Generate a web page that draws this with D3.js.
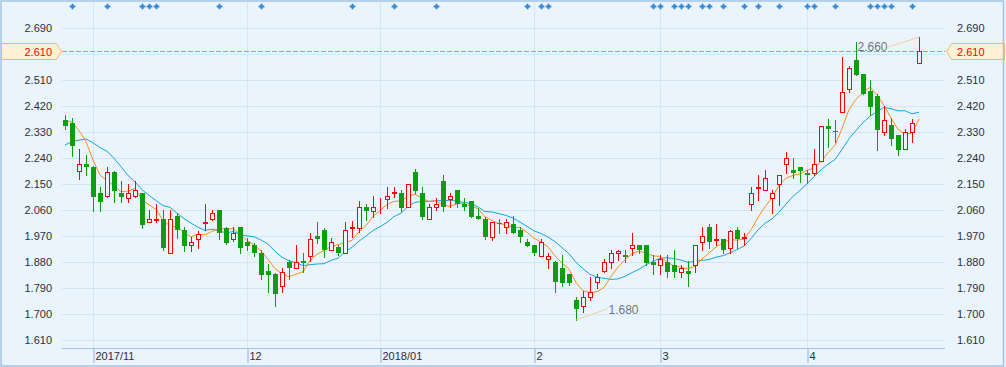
<!DOCTYPE html>
<html>
    <head>
        <title>K线图</title>
        <meta charset="utf-8" />
        <script src="https://d3js.org/d3.v7.min.js"></script>
        <style>
            body {
                margin: 0;
                background: #eaf4fc;
            }
            svg {
                display: block;
                font-family: 'Liberation Sans', Arial, sans-serif;
            }
        </style>
    </head>
    <body>
        <svg class="chart" width="1006" height="367"></svg>
        <script>
            // closes before the first visible candle (only used for the moving averages)
            const preCloses = [2.164, 2.171, 2.168, 2.234, 2.258, 2.32, 2.365, 2.4, 2.424]

            const open = [
                2.372, 2.362, 2.196, 2.22, 2.209, 2.119, 2.109, 2.192, 2.119, 2.102,
                2.109, 2.119, 2.019, 2.026, 2.029, 1.911, 2.04, 1.991, 1.939, 1.96,
                2.017, 2.029, 2.06, 1.998, 1.96, 2.002, 1.95, 1.939, 1.911, 1.849,
                1.839, 1.797, 1.88, 1.86, 1.884, 1.901, 1.97, 1.991, 1.922, 1.932,
                1.911, 1.998, 1.998, 2.071, 2.057, 2.09, 2.099, 2.121, 2.119, 2.071,
                2.192, 2.119, 2.029, 2.071, 2.161, 2.099, 2.13, 2.081, 2.091, 2.04,
                2.029, 1.967, 2.017, 2.002, 2.012, 1.991, 1.95, 1.939, 1.901, 1.891,
                1.88, 1.86, 1.839, 1.749, 1.728, 1.759, 1.811, 1.849, 1.88, 1.911,
                1.903, 1.929, 1.939, 1.939, 1.88, 1.87, 1.88, 1.87, 1.846, 1.849,
                1.87, 1.95, 2.002, 1.958, 1.96, 1.929, 1.991, 1.965, 2.081, 2.138,
                2.13, 2.102, 2.151, 2.22, 2.199, 2.209, 2.187, 2.189, 2.23, 2.352,
                2.333, 2.4, 2.48, 2.58, 2.532, 2.473, 2.455, 2.331, 2.355, 2.32,
                2.272, 2.331, 2.57
            ]
            const high = [
                2.39, 2.379, 2.272, 2.251, 2.212, 2.14, 2.209, 2.194, 2.161, 2.151,
                2.161, 2.121, 2.06, 2.081, 2.06, 2.06, 2.05, 2.002, 1.967, 1.988,
                2.081, 2.06, 2.062, 2.002, 2.002, 2.002, 1.963, 1.946, 1.922, 1.873,
                1.842, 1.86, 1.887, 1.939, 1.911, 1.981, 2.019, 1.998, 1.963, 1.939,
                2.019, 2.022, 2.091, 2.081, 2.109, 2.102, 2.14, 2.14, 2.13, 2.151,
                2.202, 2.14, 2.081, 2.102, 2.182, 2.119, 2.13, 2.102, 2.091, 2.067,
                2.036, 2.019, 2.029, 2.029, 2.04, 2.002, 1.96, 1.939, 1.96, 1.911,
                1.884, 1.905, 1.839, 1.759, 1.78, 1.828, 1.839, 1.891, 1.922, 1.922,
                1.922, 1.981, 1.939, 1.939, 1.905, 1.905, 1.905, 1.922, 1.87, 1.884,
                1.939, 2.002, 2.012, 2.012, 1.96, 1.991, 2.002, 1.981, 2.14, 2.182,
                2.199, 2.13, 2.182, 2.261, 2.241, 2.209, 2.199, 2.272, 2.352, 2.376,
                2.372, 2.591, 2.559, 2.643, 2.532, 2.511, 2.462, 2.421, 2.379, 2.32,
                2.341, 2.376, 2.66
            ]
            const low = [
                2.341, 2.248, 2.168, 2.182, 2.057, 2.057, 2.106, 2.088, 2.088, 2.088,
                2.106, 1.998, 2.019, 2.019, 1.922, 1.911, 1.963, 1.918, 1.918, 1.929,
                1.991, 2.026, 1.96, 1.943, 1.953, 1.911, 1.922, 1.901, 1.821, 1.776,
                1.728, 1.776, 1.821, 1.86, 1.846, 1.884, 1.946, 1.898, 1.922, 1.904,
                1.911, 1.967, 1.984, 2.026, 2.036, 2.05, 2.067, 2.106, 2.057, 2.071,
                2.119, 2.029, 2.029, 2.06, 2.057, 2.071, 2.071, 2.06, 2.036, 2.029,
                1.96, 1.957, 1.981, 1.981, 1.981, 1.95, 1.936, 1.904, 1.901, 1.86,
                1.776, 1.797, 1.801, 1.68, 1.707, 1.749, 1.79, 1.846, 1.86, 1.887,
                1.88, 1.904, 1.911, 1.87, 1.839, 1.839, 1.828, 1.828, 1.828, 1.797,
                1.846, 1.922, 1.929, 1.939, 1.911, 1.911, 1.929, 1.939, 2.06, 2.095,
                2.13, 2.05, 2.078, 2.189, 2.171, 2.157, 2.154, 2.182, 2.23, 2.279,
                2.296, 2.4, 2.469, 2.528, 2.462, 2.39, 2.268, 2.32, 2.286, 2.251,
                2.272, 2.296, 2.57
            ]
            const close = [
                2.352, 2.282, 2.22, 2.209, 2.106, 2.088, 2.192, 2.126, 2.106, 2.119,
                2.13, 2.008, 2.029, 2.029, 1.929, 2.029, 1.991, 1.936, 1.95, 1.977,
                2.019, 2.05, 1.981, 1.946, 1.981, 1.929, 1.936, 1.911, 1.835, 1.835,
                1.769, 1.846, 1.86, 1.88, 1.877, 1.96, 1.96, 1.922, 1.95, 1.911,
                1.991, 2.002, 2.071, 2.057, 2.071, 2.091, 2.109, 2.123, 2.067, 2.151,
                2.126, 2.036, 2.071, 2.081, 2.071, 2.109, 2.081, 2.071, 2.036, 2.029,
                1.967, 2.019, 2.014, 2.019, 1.981, 1.967, 1.936, 1.911, 1.95, 1.901,
                1.811, 1.808, 1.808, 1.717, 1.759, 1.776, 1.828, 1.88, 1.911, 1.918,
                1.899, 1.939, 1.922, 1.877, 1.87, 1.891, 1.846, 1.846, 1.86, 1.839,
                1.939, 1.97, 1.95, 1.96, 1.922, 1.988, 1.96, 1.967, 2.119, 2.14,
                2.171, 2.119, 2.182, 2.241, 2.189, 2.196, 2.183, 2.22, 2.352, 2.341,
                2.329, 2.469, 2.552, 2.528, 2.462, 2.417, 2.338, 2.372, 2.306, 2.268,
                2.331, 2.362, 2.61
            ]

            // month starts (candle index) and their labels
            const monthIdx = [4, 26, 45, 67, 85, 106]
            const monthLabels = ['2017/11', '12', '2018/01', '2', '3', '4']

            // candles with an event marker on top
            const eventIdx = [
                1, 6, 11, 12, 13, 22, 28, 41, 47, 53, 66, 68, 69, 84, 85, 87, 88,
                89, 91, 92, 94, 97, 99, 102, 106, 107, 110, 115, 116, 117, 118, 121
            ]

            const yTicks = [1.61, 1.7, 1.79, 1.88, 1.97, 2.06, 2.15, 2.24, 2.33, 2.42, 2.51, 2.6, 2.69]
            const lastPrice = 2.61

            const W = 1006
            const H = 367
            const left = 62
            const right = 945
            const bottom = 348

            const bg = '#eaf4fc'
            const red = '#ff0000'
            const green = '#0c9e0c'

            const x = d3.scaleLinear().domain([0, close.length - 1]).range([65, 919])
            const y = d3.scaleLinear().domain([1.61, 2.69]).range([340, 28.3])
            const fmt = d3.format('.3f')

            const svg = d3.select('svg.chart')

            svg.append('rect').attr('width', W).attr('height', H).style('fill', bg)

            // grid
            svg.append('g')
                .selectAll('line')
                .data(yTicks)
                .enter()
                .append('line')
                .attr('x1', left)
                .attr('x2', right)
                .attr('y1', (d) => Math.round(y(d)) + 0.5)
                .attr('y2', (d) => Math.round(y(d)) + 0.5)
                .style('stroke', '#d5e5f4')

            svg.append('g')
                .selectAll('line')
                .data(monthIdx)
                .enter()
                .append('line')
                .attr('x1', (d) => Math.round(x(d)) + 0.5)
                .attr('x2', (d) => Math.round(x(d)) + 0.5)
                .attr('y1', 2)
                .attr('y2', bottom)
                .style('stroke', '#d5e5f4')

            // y axes (the tick hidden under the price tag is left out)
            const showTicks = yTicks.filter((d) => Math.abs(y(d) - y(lastPrice)) > 8)

            const yLeft = svg.append('g')
                .attr('transform', `translate(${left},0)`)
                .call(d3.axisLeft(y).tickValues(showTicks).tickFormat(fmt).tickSize(0).tickPadding(10))
            const yRight = svg.append('g')
                .attr('transform', `translate(${right},0)`)
                .call(d3.axisRight(y).tickValues(showTicks).tickFormat(fmt).tickSize(0).tickPadding(12))

            ;[yLeft, yRight].forEach((g) => {
                g.select('.domain').remove()
                g.selectAll('text')
                    .style('font-size', '11px')
                    .style('font-family', "'Liberation Sans', Arial, sans-serif")
                    .style('fill', '#2a303a')
            })

            // x axis
            const xAxis = svg.append('g')
                .attr('transform', `translate(0,${bottom})`)
                .call(
                    d3.axisBottom(x)
                        .tickValues(monthIdx)
                        .tickFormat((d, i) => monthLabels[i])
                        .tickSize(15)
                )
            xAxis.select('.domain').remove()
            xAxis.selectAll('.tick line')
                .attr('transform', 'translate(0.5,0)')
                .style('stroke', '#8fb3da')
            xAxis.selectAll('.tick text')
                .attr('text-anchor', 'start')
                .attr('x', 2)
                .attr('y', 12)
                .attr('dy', 0)
                .style('font-size', '11px')
                .style('font-family', "'Liberation Sans', Arial, sans-serif")
                .style('fill', '#2a303a')

            svg.append('line')
                .attr('x1', left)
                .attr('x2', right)
                .attr('y1', bottom + 0.5)
                .attr('y2', bottom + 0.5)
                .style('stroke', '#a5c3e3')

            // last price dashed line
            svg.append('line')
                .attr('x1', left)
                .attr('x2', right)
                .attr('y1', Math.round(y(lastPrice)) + 0.5)
                .attr('y2', Math.round(y(lastPrice)) + 0.5)
                .style('stroke', '#d9963c')
                .style('stroke-dasharray', '5,2')

            // moving averages MA5 / MA10
            const allCloses = preCloses.concat(close)
            const ma = (n) =>
                close.map((d, i) =>
                    d3.mean(allCloses.slice(i + preCloses.length - n + 1, i + preCloses.length + 1))
                )
            const line = d3.line().x((d, i) => x(i)).y((d) => y(d))

            svg.append('path')
                .datum(ma(10))
                .attr('d', line)
                .style('fill', 'none')
                .style('stroke', '#16a6e2')
                .style('stroke-width', '1px')

            svg.append('path')
                .datum(ma(5))
                .attr('d', line)
                .style('fill', 'none')
                .style('stroke', '#ff8a1c')
                .style('stroke-width', '1px')

            // candles: red hollow = up, green solid = down
            const candles = svg.append('g')
                .selectAll('g')
                .data(close)
                .enter()
                .append('g')

            candles.append('line')
                .attr('x1', (d, i) => Math.round(x(i)) + 0.5)
                .attr('x2', (d, i) => Math.round(x(i)) + 0.5)
                .attr('y1', (d, i) => Math.round(y(high[i])))
                .attr('y2', (d, i) => Math.round(y(low[i])) + 1)
                .style('stroke', (d, i) => (d >= open[i] ? red : green))

            candles.each(function (d, i) {
                const g = d3.select(this)
                const cx = Math.round(x(i))
                const yo = Math.round(y(open[i]))
                const yc = Math.round(y(d))
                if (d < open[i]) {
                    g.append('rect')
                        .attr('x', cx - 2)
                        .attr('y', yo)
                        .attr('width', 5)
                        .attr('height', Math.max(1, yc - yo))
                        .style('fill', green)
                } else {
                    g.append('rect')
                        .attr('x', cx - 1.5)
                        .attr('y', yc + 0.5)
                        .attr('width', 4)
                        .attr('height', Math.max(0, yo - yc))
                        .style('fill', bg)
                        .style('stroke', red)
                        .style('stroke-width', '1px')
                }
            })

            // highest / lowest labels
            const hiIdx = d3.maxIndex(high)
            const loIdx = d3.minIndex(low)
            const marks = [
                { i: hiIdx, v: high[hiIdx], up: true },
                { i: loIdx, v: low[loIdx], up: false }
            ]
            marks.forEach((m) => {
                const px = Math.round(x(m.i)) + 0.5
                const py = y(m.v)
                const toLeft = px + 45 > right
                const dx = toLeft ? -31 : 31
                const dy = m.up ? 10 : -11
                svg.append('line')
                    .attr('x1', px)
                    .attr('y1', py)
                    .attr('x2', px + dx)
                    .attr('y2', py + dy)
                    .style('stroke', '#f3cf9f')
                svg.append('text')
                    .attr('x', px + dx + (toLeft ? -1 : 1))
                    .attr('y', py + dy + (m.up ? 4 : 5))
                    .attr('text-anchor', toLeft ? 'end' : 'start')
                    .style('font-size', '12px')
                    .style('fill', '#6f7888')
                    .text(fmt(m.v))
            })

            // event markers
            svg.append('g')
                .selectAll('path')
                .data(eventIdx)
                .enter()
                .append('path')
                .attr('d', d3.symbol().type(d3.symbolCross).size(18))
                .attr('transform', (d) => `translate(${Math.round(x(d)) + 0.5},6.5)`)
                .style('fill', '#2a84de')

            // last price tags
            const ly = Math.round(y(lastPrice)) + 0.5
            svg.append('path')
                .attr('d', `M1.5,${ly - 8}H56.5L61.5,${ly}L56.5,${ly + 8}H1.5Z`)
                .style('fill', '#fff0d6')
                .style('stroke', '#f4b66c')
            svg.append('text')
                .attr('x', 52)
                .attr('y', ly + 4)
                .attr('text-anchor', 'end')
                .style('font-size', '11px')
                .style('fill', red)
                .text(fmt(lastPrice))

            svg.append('path')
                .attr('d', `M1004.5,${ly - 8}H951.5L946.5,${ly}L951.5,${ly + 8}H1004.5Z`)
                .style('fill', '#fff0d6')
                .style('stroke', '#f4b66c')
            svg.append('text')
                .attr('x', 957)
                .attr('y', ly + 4)
                .style('font-size', '11px')
                .style('fill', red)
                .text(fmt(lastPrice))

            // frame
            svg.append('rect')
                .attr('x', 1)
                .attr('y', 1)
                .attr('width', 1002.5)
                .attr('height', 365)
                .style('fill', 'none')
                .style('stroke', '#a5c3e3')
                .style('stroke-width', '1.5px')
        </script>
    </body>
</html>
